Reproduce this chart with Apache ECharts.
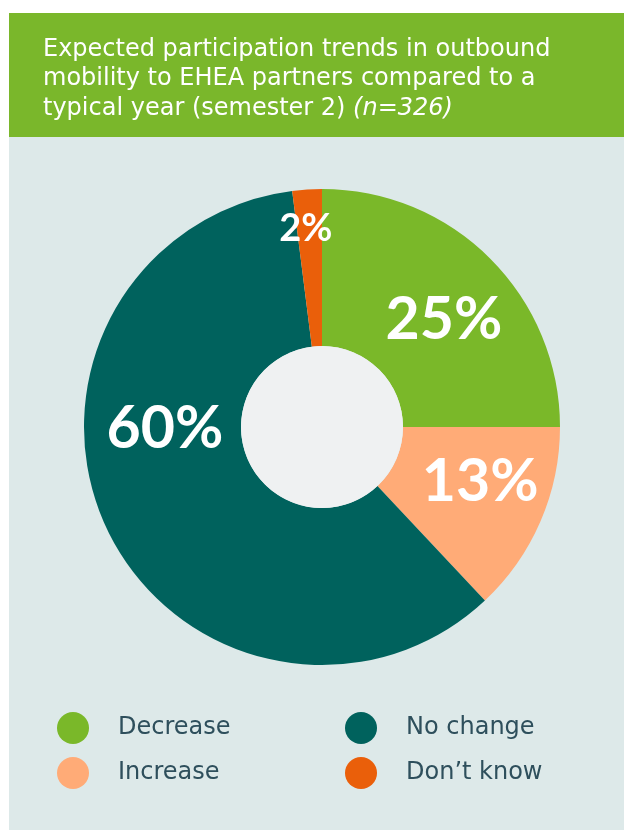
<!DOCTYPE html>
<html>
<head>
<meta charset="utf-8">
<script src="https://cdn.jsdelivr.net/npm/echarts@6/dist/echarts.min.js"></script>
<style>
  html, body { margin: 0; padding: 0; background: #fff; }
  #chart { width: 624px; height: 830px; }
</style>
</head>
<body>
<div id="chart"></div>
<script>
  // data
  var categories = ['Decrease', 'Increase', 'No change', 'Don\u2019t know']
  var shares = [25, 13, 60, 2]
  var colors = ['#7ab829', '#ffab77', '#00625d', '#ea5f0a']
  var legendLeft = ['Decrease', 'Increase']
  var legendRight = ['No change', 'Don\u2019t know']

  // label nudges from the default 'inside' spot (pixels)
  var labelNudge = [[7, 8], [9, -10], [-10, -67], [-6, -36]]
  var labelSize = [59, 59, 59, 38]

  var chart = echarts.init(document.getElementById('chart'), null, { renderer: 'canvas' })

  var pieData = categories.map(function (name, i) {
    return {
      name: name,
      value: shares[i],
      itemStyle: { color: colors[i] },
      label: { fontSize: labelSize[i] }
    }
  })

  var legendText = {
    color: '#2e4f5c',
    fontSize: 24,
    fontFamily: 'DejaVu Sans',
    padding: [0, 0, 0, 24]
  }

  chart.setOption({
    animation: false,
    graphic: [
      { type: 'rect', z: -10, shape: { x: 9, y: 13, width: 615, height: 817 }, style: { fill: '#dde9e9' } },
      { type: 'rect', z: -9, shape: { x: 9, y: 13, width: 615, height: 124 }, style: { fill: '#7ab72b' } }
    ],
    title: {
      text: 'Expected participation trends in outbound\nmobility to EHEA partners compared to a\ntypical year (semester 2) {i|(n=326)}',
      left: 38,
      top: 30,
      textStyle: {
        color: '#ffffff',
        fontSize: 24,
        fontWeight: 'normal',
        fontFamily: 'DejaVu Sans',
        lineHeight: 29.5,
        rich: {
          i: { fontStyle: 'italic', color: '#ffffff', fontSize: 24, fontFamily: 'DejaVu Sans' }
        }
      }
    },
    legend: [
      {
        data: legendLeft,
        orient: 'vertical',
        left: 52,
        top: 707,
        icon: 'circle',
        itemWidth: 32,
        itemHeight: 32,
        itemGap: 13,
        selectedMode: false,
        textStyle: legendText
      },
      {
        data: legendRight,
        orient: 'vertical',
        left: 340,
        top: 707,
        icon: 'circle',
        itemWidth: 32,
        itemHeight: 32,
        itemGap: 13,
        selectedMode: false,
        textStyle: legendText
      }
    ],
    series: [
      {
        type: 'pie',
        center: [322, 427],
        radius: [81, 238],
        startAngle: 90,
        clockwise: true,
        avoidLabelOverlap: false,
        itemStyle: { borderWidth: 0 },
        emphasis: { disabled: true },
        label: {
          show: true,
          position: 'inside',
          formatter: '{c}%',
          color: '#ffffff',
          fontFamily: 'Lato',
          fontWeight: 'bold'
        },
        labelLine: { show: false },
        labelLayout: function (params) {
          var n = labelNudge[params.dataIndex]
          return { dx: n[0], dy: n[1] }
        },
        data: pieData
      },
      {
        // the light hole in the middle
        type: 'pie',
        center: [322, 427],
        radius: [0, 81],
        silent: true,
        label: { show: false },
        labelLine: { show: false },
        itemStyle: { color: '#eff1f2' },
        data: [{ name: 'hole', value: 1 }]
      }
    ]
  })
</script>
</body>
</html>
